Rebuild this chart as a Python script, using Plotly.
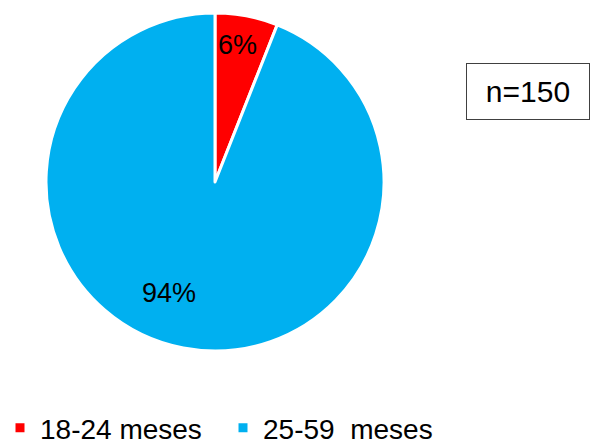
import math
import plotly.graph_objects as go

labels = ["18-24 meses", "25-59\u00a0 meses"]
values = [6, 94]
colors = ["#FF0000", "#00B0F0"]
text_labels = ["6%", "94%"]
# label placement (fraction of radius, angle shift in degrees from slice middle)
label_r = [0.82, 0.71]
label_shift = [-1.3, 11.7]

W, H = 595, 445
cx, cy, R = 215, 182, 169  # pie centre / radius in pixels

fig = go.Figure()
fig.add_trace(go.Pie(
    labels=labels,
    values=values,
    textinfo="none",
    marker=dict(colors=colors, line=dict(color="white", width=3)),
    sort=False,
    direction="clockwise",
    rotation=0,
    domain=dict(x=[(cx - R) / W, (cx + R) / W], y=[1 - (cy + R) / H, 1 - (cy - R) / H]),
    hoverinfo="label+percent",
))

total = sum(values)
cum = 0
for v, t, rf, sh in zip(values, text_labels, label_r, label_shift):
    mid = (cum + v / 2) / total * 360 + sh
    cum += v
    a = math.radians(mid)
    px = cx + rf * R * math.sin(a)
    py = cy - rf * R * math.cos(a)
    fig.add_annotation(
        x=px / W, y=1 - py / H, xref="paper", yref="paper",
        text=t, showarrow=False, xanchor="center", yanchor="middle",
        font=dict(family="Liberation Sans, Arial", size=27, color="black"),
    )

fig.add_annotation(
    x=528 / W, y=1 - 91.5 / H, xref="paper", yref="paper",
    xanchor="center", yanchor="middle",
    text="n=150", showarrow=False,
    font=dict(family="Liberation Sans, Arial", size=30, color="black"),
    bordercolor="#404040", borderwidth=1, borderpad=0,
    bgcolor="white", width=122, height=55, align="center", valign="middle",
)

fig.update_layout(
    width=W, height=H,
    margin=dict(l=0, r=0, t=0, b=0, autoexpand=False),
    paper_bgcolor="white",
    showlegend=True,
    legend=dict(
        orientation="h", xref="paper", yref="paper",
        x=0, y=-8 / H, xanchor="left", yanchor="bottom",
        bgcolor="rgba(0,0,0,0)",
        font=dict(family="Liberation Sans, Arial", size=28, color="black"),
        itemwidth=30, traceorder="normal",
        entrywidthmode="pixels", entrywidth=178,
    ),
)

fig.write_html("out.html")
